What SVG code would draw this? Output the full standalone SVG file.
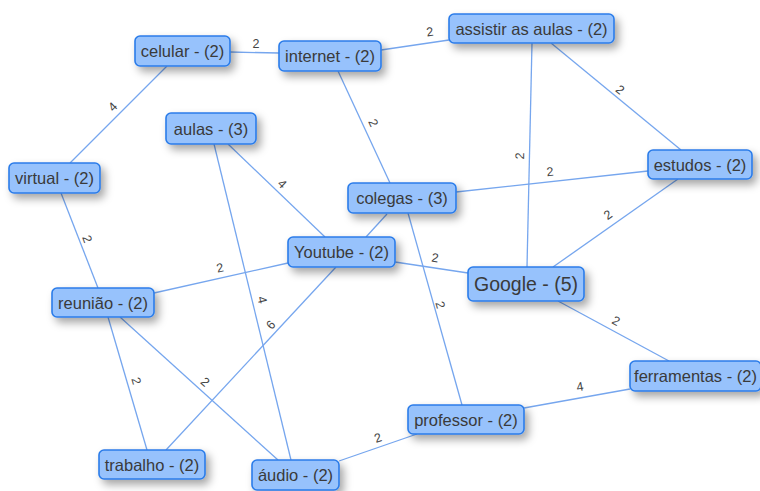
<svg xmlns="http://www.w3.org/2000/svg" width="760" height="491" viewBox="0 0 760 491">
<defs>
<filter id="sh" x="-30%" y="-40%" width="170%" height="220%">
<feDropShadow dx="4" dy="5" stdDeviation="4" flood-color="#000" flood-opacity="0.35"/>
</filter>
</defs>
<style>
.n rect{fill:#97c2fc;stroke:#2b7ce9;stroke-width:1.6;filter:url(#sh)}
.n text{font-family:"Liberation Sans",Arial,sans-serif;font-size:16.5px;fill:#3a3a3a;text-anchor:middle;dominant-baseline:central}
#edges line{stroke:#76a6ee;stroke-width:1.3}
#edges text{font-family:"Liberation Sans",Arial,sans-serif;font-size:12.5px;fill:#444;text-anchor:middle;dominant-baseline:central}
</style>
<rect width="760" height="491" fill="#fff"/>
<g id="edges">
<line x1="230" y1="52" x2="279" y2="53"/><text x="256" y="44">2</text>
<line x1="381" y1="50" x2="449" y2="40"/><text x="430" y="32" transform="rotate(-8 430 32)">2</text>
<line x1="167" y1="66" x2="70" y2="163"/><text x="113" y="107" transform="rotate(-45 113 107)">4</text>
<line x1="338" y1="71" x2="390" y2="183"/><text x="373" y="123" transform="rotate(65 373 123)">2</text>
<line x1="61" y1="193" x2="98" y2="288"/><text x="87" y="239" transform="rotate(69 87 239)">2</text>
<line x1="228" y1="144" x2="325" y2="237"/><text x="282" y="184" transform="rotate(44 282 184)">4</text>
<line x1="214" y1="144" x2="291" y2="460"/><text x="262" y="300" transform="rotate(76 262 300)">4</text>
<line x1="336" y1="267" x2="166" y2="450"/><text x="271" y="325" transform="rotate(-47 271 325)">6</text>
<line x1="154" y1="293" x2="288" y2="263"/><text x="220" y="268" transform="rotate(-12.6 220 268)">2</text>
<line x1="108" y1="317" x2="147" y2="450"/><text x="136" y="381" transform="rotate(74 136 381)">2</text>
<line x1="120" y1="317" x2="278" y2="460"/><text x="205" y="382" transform="rotate(42 205 382)">2</text>
<line x1="387" y1="214" x2="366" y2="237"/>
<line x1="456" y1="192" x2="648" y2="171"/><text x="550" y="172" transform="rotate(-6 550 172)">2</text>
<line x1="408" y1="213" x2="462" y2="405"/><text x="440" y="305" transform="rotate(74 440 305)">2</text>
<line x1="532" y1="43" x2="527" y2="267"/><text x="520" y="156" transform="rotate(-89 520 156)">2</text>
<line x1="551" y1="43" x2="681" y2="150"/><text x="620" y="90" transform="rotate(39.5 620 90)">2</text>
<line x1="678" y1="179" x2="553" y2="267"/><text x="608" y="215" transform="rotate(-35 608 215)">2</text>
<line x1="395" y1="262" x2="468" y2="273"/><text x="435" y="258" transform="rotate(8.6 435 258)">2</text>
<line x1="558" y1="301" x2="669" y2="361"/><text x="616" y="321" transform="rotate(28 616 321)">2</text>
<line x1="630" y1="389" x2="524" y2="408"/><text x="580" y="387" transform="rotate(-10 580 387)">4</text>
<line x1="417" y1="434" x2="339" y2="461"/><text x="378" y="438" transform="rotate(-19 378 438)">2</text>
</g>
<g id="celular" class="n"><rect x="135" y="36" width="95" height="30" rx="5"/><text x="182.5" y="51">celular - (2)</text></g>
<g id="internet" class="n"><rect x="279" y="41" width="102" height="30" rx="5"/><text x="330" y="56">internet - (2)</text></g>
<g id="assistir" class="n"><rect x="449" y="14" width="165" height="29" rx="5"/><text x="531.5" y="28.5">assistir as aulas - (2)</text></g>
<g id="aulas" class="n"><rect x="166" y="113" width="90" height="31" rx="5"/><text x="211" y="128.5">aulas - (3)</text></g>
<g id="virtual" class="n"><rect x="9" y="163" width="91" height="30" rx="5"/><text x="54.5" y="178">virtual - (2)</text></g>
<g id="colegas" class="n"><rect x="348" y="183" width="108" height="30" rx="5"/><text x="402" y="198">colegas - (3)</text></g>
<g id="estudos" class="n"><rect x="648" y="150" width="104" height="29" rx="5"/><text x="700" y="164.5">estudos - (2)</text></g>
<g id="youtube" class="n"><rect x="288" y="237" width="107" height="30" rx="5"/><text x="341.5" y="252">Youtube - (2)</text></g>
<g id="google" class="n"><rect x="468" y="267" width="116" height="34" rx="5"/><text x="526" y="284" style="font-size:19.5px">Google - (5)</text></g>
<g id="reuniao" class="n"><rect x="52" y="288" width="102" height="29" rx="5"/><text x="103" y="302.5">reunião - (2)</text></g>
<g id="ferramentas" class="n"><rect x="630" y="361" width="131" height="30" rx="5"/><text x="695.5" y="376">ferramentas - (2)</text></g>
<g id="professor" class="n"><rect x="408" y="405" width="116" height="29" rx="5"/><text x="466" y="419.5">professor - (2)</text></g>
<g id="trabalho" class="n"><rect x="99" y="450" width="106" height="29" rx="5"/><text x="152" y="464.5">trabalho - (2)</text></g>
<g id="audio" class="n"><rect x="252" y="460" width="87" height="30" rx="5"/><text x="295.5" y="475">áudio - (2)</text></g>
</svg>
